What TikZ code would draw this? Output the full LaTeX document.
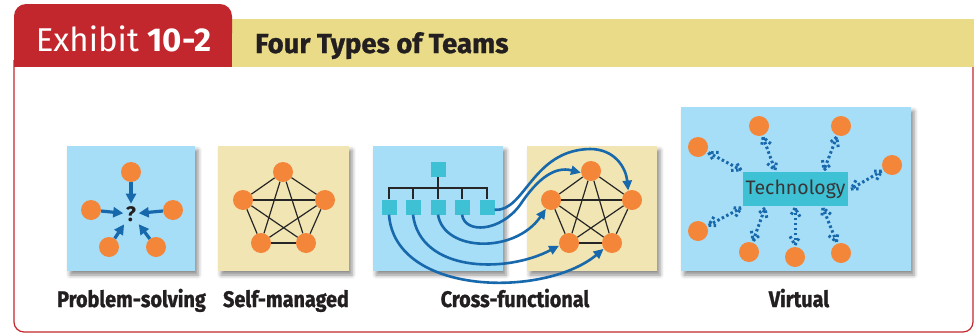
\documentclass[tikz,border=0pt]{standalone}
\usepackage{fontspec}
\setmainfont{Fira Sans}
\newfontfamily\labfont[FakeStretch=0.88,BoldFeatures={FakeBold=1.2}]{Fira Sans}
\newfontfamily\titlefont[BoldFeatures={FakeBold=1}]{Fira Sans}
\usetikzlibrary{calc,arrows.meta,shadows.blur}
\definecolor{tabred}{HTML}{C1272D}
\definecolor{baryellow}{HTML}{E9DB87}
\definecolor{panelblue}{HTML}{A6DDF7}
\definecolor{panelyellow}{HTML}{F1E5B3}
\definecolor{orangec}{HTML}{F4863A}
\definecolor{arrowblue}{HTML}{1868AC}
\definecolor{cyanc}{HTML}{3EC1D5}
\definecolor{titlegray}{HTML}{231F20}
\newcommand\dotconn[2]{%
  \coordinate (da) at ($(#1)!12pt!(#2)$);
  \coordinate (db) at (#2);
  \draw[dotline] (da) -- (db);
  \draw[dotline] ($(da)!10pt!30:(db)$) -- (da) -- ($(da)!10pt!-30:(db)$);
  \draw[dotline] ($(db)!10pt!30:(da)$) -- (db) -- ($(db)!10pt!-30:(da)$);
}
\begin{document}
\begin{tikzpicture}[x=1pt,y=-1pt,
  panelshadow/.style={blur shadow={shadow xshift=3pt,shadow yshift=-4pt,shadow blur radius=4pt,shadow opacity=45}},
  pc/.style={circle,fill=orangec,minimum size=20pt,inner sep=0pt},
  sqb/.style={rectangle,fill=cyanc,minimum size=15pt,inner sep=0pt},
  psarrow/.style={draw=arrowblue,line width=3.2pt,-{Triangle[length=10pt,width=10pt]}},
  edge5/.style={draw=black!85,line width=1.2pt},
  tree/.style={draw=black!85,line width=1.2pt},
  cfarrow/.style={draw=arrowblue,line width=2.6pt,-{Triangle[length=10pt,width=9pt]}},
  dotline/.style={draw=arrowblue,line width=3pt,dash pattern=on 2.5pt off 2.5pt},
  lab/.style={anchor=base,font=\labfont\bfseries\fontsize{22.5}{22.5}\selectfont,text=titlegray},
]
\useasboundingbox (0,0) rectangle (975,335);
% frame
\draw[tabred,line width=1.2pt,rounded corners=10pt] (14,60) -- (14,332) -- (973,332) -- (973,60);
% header
\fill[baryellow] (232,19) rectangle (974,67);
\fill[tabred,rounded corners=12pt] (14,4) rectangle (232,45);
\fill[tabred] (14,25) rectangle (232,67);
\node[anchor=base,text=white,font=\fontsize{33}{33}\selectfont,inner sep=0pt] (ex) at (123.5,51) {Exhibit \textbf{10-2}};
\node[anchor=base west,inner sep=0pt,font=\titlefont\bfseries\fontsize{27.5}{27.5}\selectfont,text=titlegray] (title) at (255,53) {Four Types of Teams};
% panels
\fill[panelblue,panelshadow] (67,146) rectangle (195,271);
\fill[panelyellow,panelshadow] (218,146) rectangle (349,271);
\fill[panelblue,panelshadow] (373,146) rectangle (503,271);
\fill[panelyellow,panelshadow] (527,146) rectangle (657,271);
\fill[panelblue,panelshadow] (681,107) rectangle (911,271);
% problem-solving
\node[pc] (p1) at (131,172) {};
\node[pc] (p2) at (91,210) {};
\node[pc] (p3) at (173,210) {};
\node[pc] (p4) at (109,247) {};
\node[pc] (p5) at (156,247) {};
\node[font=\bfseries\fontsize{21}{21}\selectfont,text=titlegray,inner sep=2.5pt] (q) at (131,214) {?};
\foreach \n in {p1,p2,p3,p4,p5} \draw[psarrow] (\n) -- (q);
% self-managed
\node[pc] (s1) at (283,172) {};
\node[pc] (s2) at (243,200) {};
\node[pc] (s3) at (325,200) {};
\node[pc] (s4) at (261,243) {};
\node[pc] (s5) at (306,243) {};
\foreach \a/\b in {s1/s2,s1/s3,s1/s4,s1/s5,s2/s3,s2/s4,s2/s5,s3/s4,s3/s5,s4/s5} \draw[edge5] (\a) -- (\b);
% cross-functional hierarchy
\node[sqb] (h0) at (438,169) {};
\node[sqb] (h1) at (389,207) {};
\node[sqb] (h2) at (413,207) {};
\node[sqb] (h3) at (438,207) {};
\node[sqb] (h4) at (462,207) {};
\node[sqb] (h5) at (487,207) {};
\coordinate (bar) at (438,188);
\draw[tree] (h0.south) -- (bar);
\draw[tree] (h1.north) -- (h1.north |- bar) -- (h5.north |- bar) -- (h5.north);
\foreach \n in {h2,h3,h4} \draw[tree] (\n.north) -- (\n.north |- bar);
% cross-functional team
\node[pc] (f1) at (591,171) {};
\node[pc] (f2) at (551,200) {};
\node[pc] (f3) at (632,200) {};
\node[pc] (f4) at (569,243) {};
\node[pc] (f5) at (612,243) {};
\foreach \a/\b in {f1/f2,f1/f3,f1/f4,f1/f5,f2/f3,f2/f4,f2/f5,f3/f4,f3/f5,f4/f5} \draw[edge5] (\a) -- (\b);
\draw[cfarrow] (h5.-20) .. controls (525,212) and (532,150) .. (590,149) .. controls (615,149) and (626,168) .. (f3.112);
\draw[cfarrow] (h4.south) .. controls (465,234) and (500,232) .. (520,205) .. controls (538,178) and (555,166) .. (f1.190);
\draw[cfarrow] (h3.south) .. controls (444,252) and (515,254) .. (f2.240);
\draw[cfarrow] (h2.south) .. controls (420,272) and (505,274) .. (f4.195);
\draw[cfarrow] (h1.south) .. controls (395,296) and (545,298) .. (f5.215);
% virtual
\node[fill=cyanc,minimum width=105pt,minimum height=34pt,inner sep=0pt,font=\fontsize{19.5}{19.5}\selectfont,text=titlegray!90] (tech) at (795.5,189) {Technology};
\node[pc] (v1) at (698,147) {};
\node[pc] (v2) at (759,126) {};
\node[pc] (v3) at (841,126) {};
\node[pc] (v4) at (892,165) {};
\node[pc] (v5) at (698,231) {};
\node[pc] (v6) at (749,252) {};
\node[pc] (v7) at (795,257) {};
\node[pc] (v8) at (841,253) {};
\coordinate (t1) at (741,170);
\coordinate (t2) at (775,170);
\coordinate (t3) at (824,170);
\coordinate (t4) at (851,189);
\coordinate (t5) at (741,208);
\coordinate (t6) at (765,208);
\coordinate (t7) at (795,208);
\coordinate (t8) at (823,208);
\dotconn{v1}{t1}
\dotconn{v2}{t2}
\dotconn{v3}{t3}
\dotconn{v4}{t4}
\dotconn{v5}{t5}
\dotconn{v6}{t6}
\dotconn{v7}{t7}
\dotconn{v8}{t8}
% labels
\node[lab] (l1) at (131.5,307) {Problem-solving};
\node[lab] (l2) at (286,307) {Self-managed};
\node[lab] (l3) at (515,307) {Cross-functional};
\node[lab] (l4) at (799,307) {Virtual};
\end{tikzpicture}
\end{document}
